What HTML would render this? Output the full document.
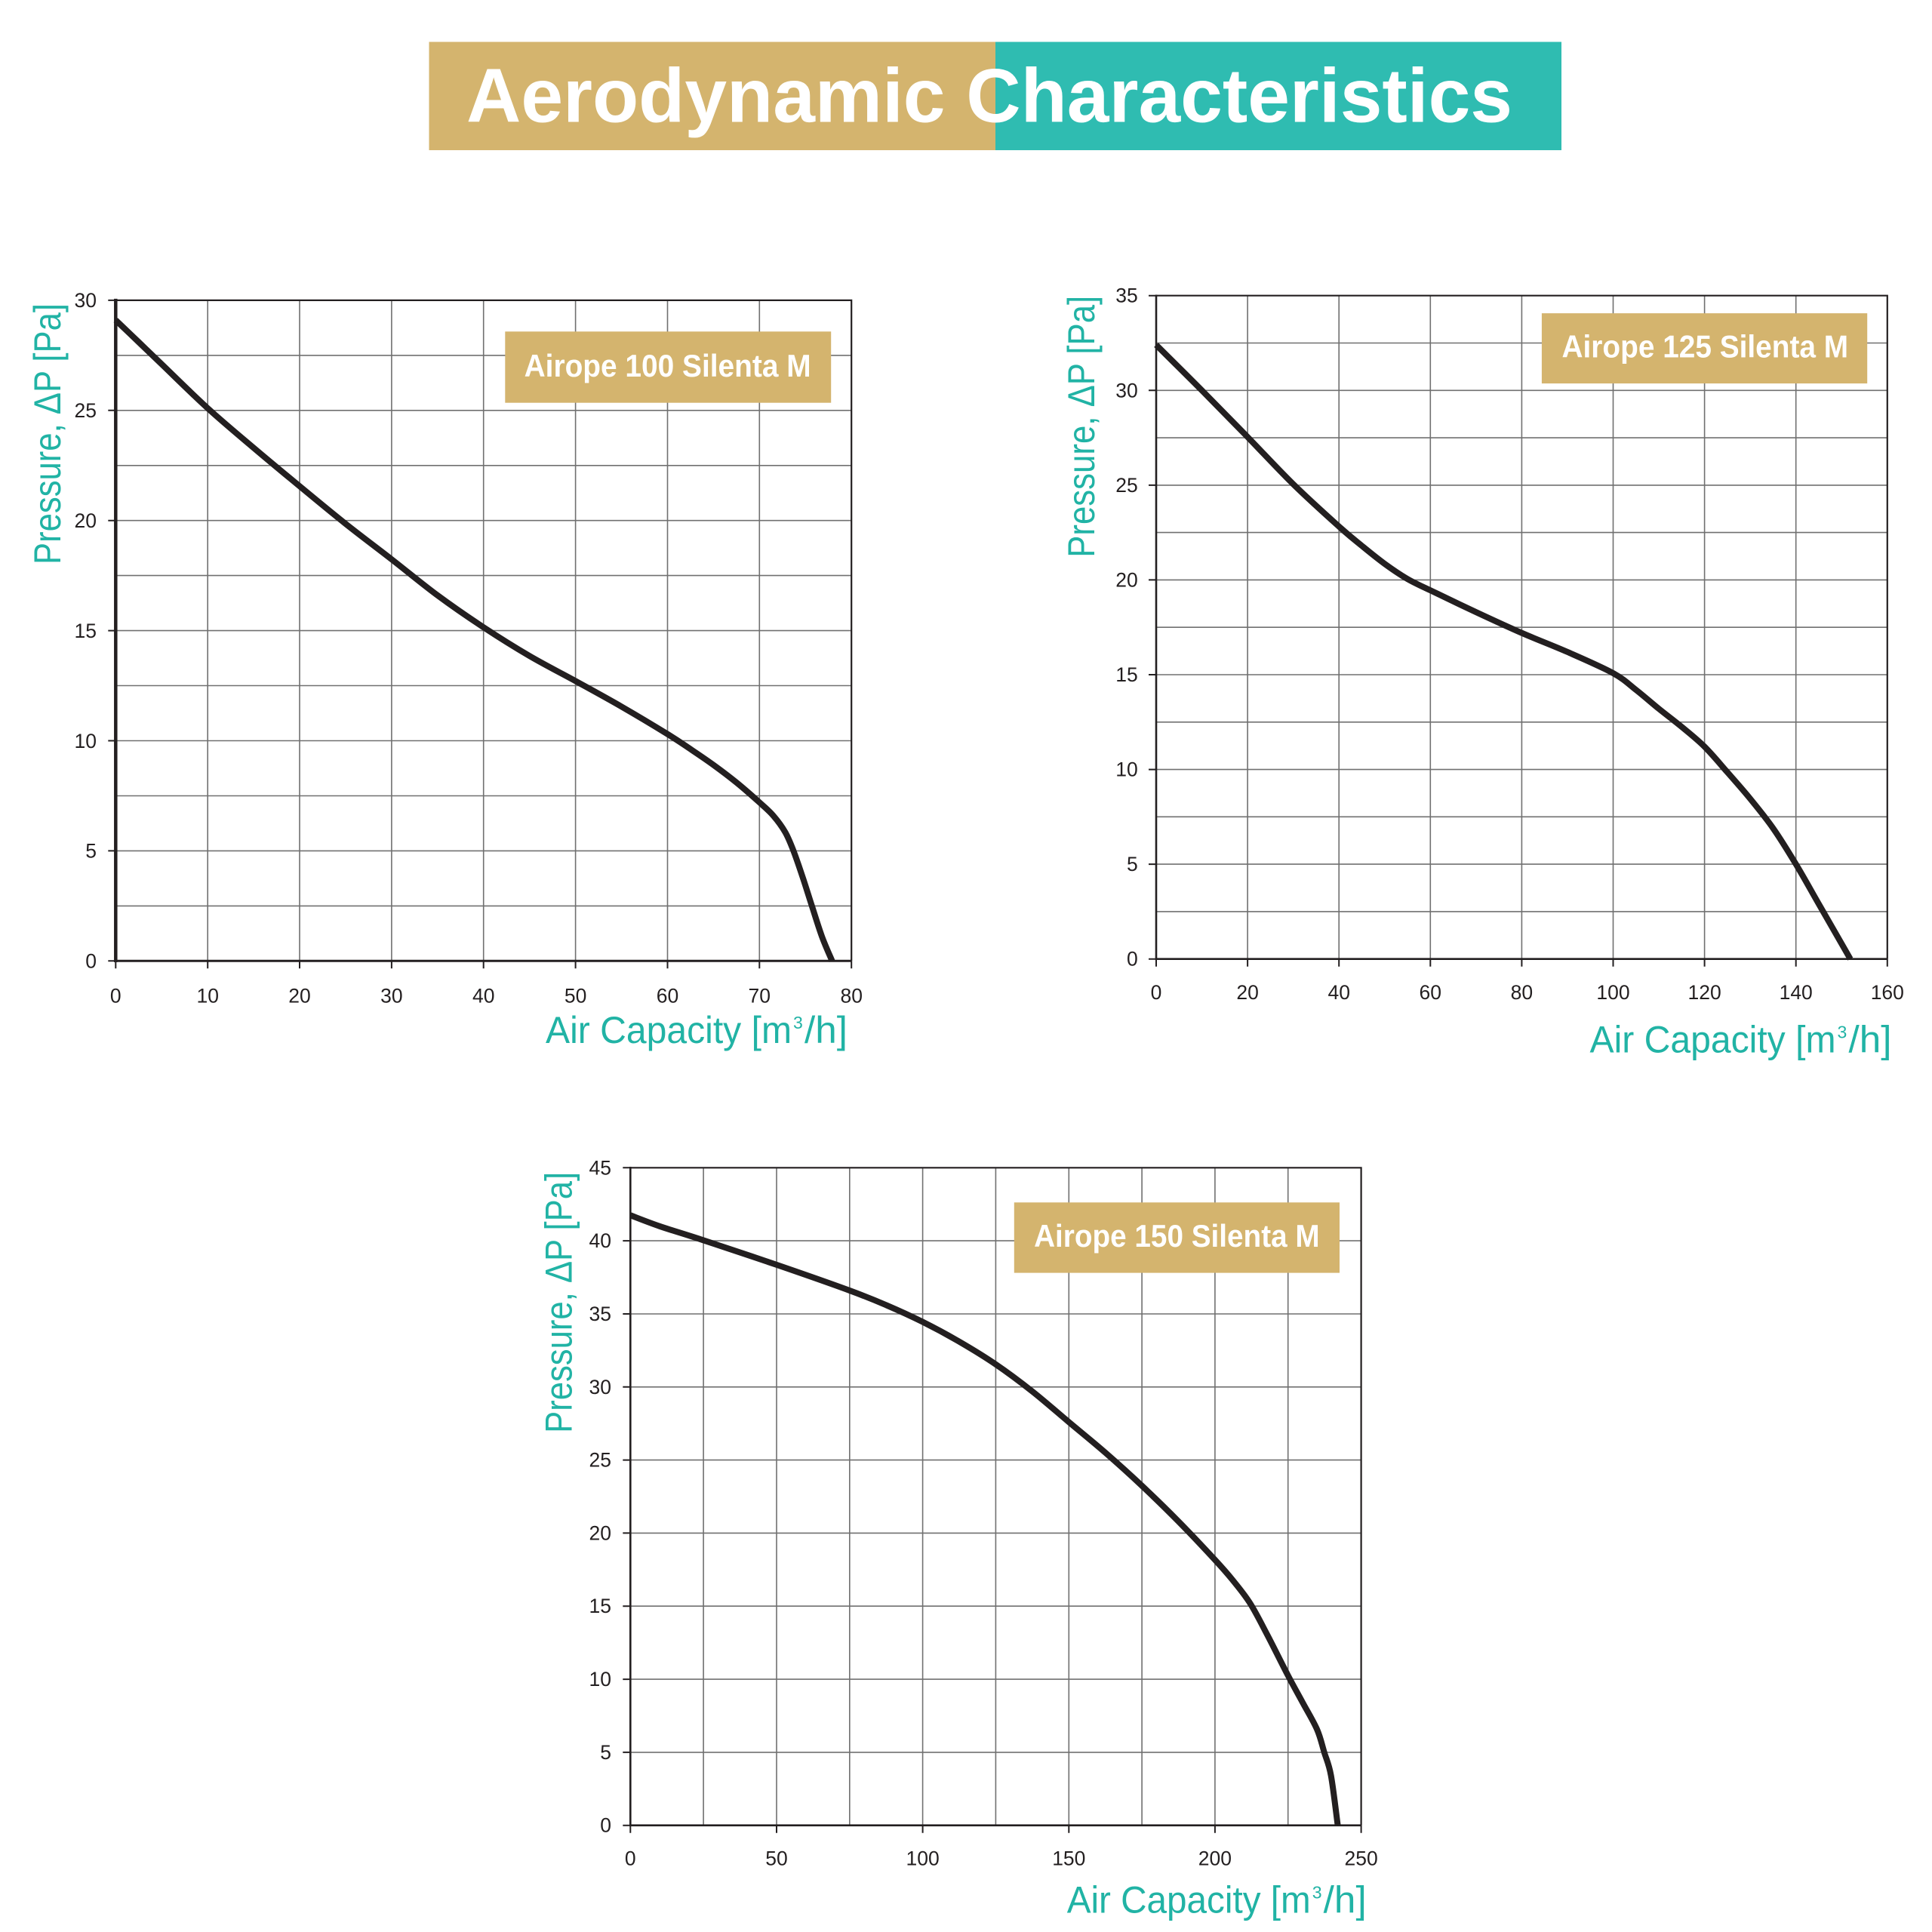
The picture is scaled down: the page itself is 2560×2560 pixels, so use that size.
<!DOCTYPE html>
<html>
<head>
<meta charset="utf-8">
<style>
html,body{margin:0;padding:0;background:#fff;}
svg{display:block;}
.tk{font-family:"Liberation Sans",Arial,sans-serif;font-size:26.5px;fill:#231f20;}
.ax{font-family:"Liberation Sans",Arial,sans-serif;font-size:50px;fill:#21b3a5;}
.sup{font-family:"Liberation Sans",Arial,sans-serif;font-size:23px;fill:#21b3a5;}
.bx{font-family:"Liberation Sans",Arial,sans-serif;font-size:42px;font-weight:bold;fill:#fff;}
.grid{stroke:#707070;stroke-width:1.6;fill:none;}
.bd{stroke:#231f20;fill:none;}
.crv{stroke:#231f20;stroke-width:8;fill:none;stroke-linejoin:round;stroke-linecap:butt;}
</style>
</head>
<body>
<svg id="root" width="2560" height="2560" viewBox="0 0 2560 2560" xmlns="http://www.w3.org/2000/svg">
<rect width="2560" height="2560" fill="#fff"/>

<!-- Title banner -->
<rect x="568.5" y="55.5" width="751" height="143.5" fill="#d4b46e"/>
<rect x="1319" y="55.5" width="750" height="143.5" fill="#2fbcb1"/>
<text x="618" y="161.7" font-family="Liberation Sans, Arial, sans-serif" font-size="101" font-weight="bold" fill="#fff" textLength="1386" lengthAdjust="spacingAndGlyphs">Aerodynamic Characteristics</text>

<!-- ================= Chart 1 ================= -->
<path class="grid" d="M275.2 397.9V1273.3M397 397.9V1273.3M518.9 397.9V1273.3M640.7 397.9V1273.3M762.6 397.9V1273.3M884.5 397.9V1273.3M1006.3 397.9V1273.3
M153.3 1200.4H1128.2M153.3 1127.4H1128.2M153.3 1054.5H1128.2M153.3 981.5H1128.2M153.3 908.5H1128.2M153.3 835.6H1128.2M153.3 762.6H1128.2M153.3 689.7H1128.2M153.3 616.8H1128.2M153.3 543.8H1128.2M153.3 470.9H1128.2"/>
<path class="bd" stroke-width="2.2" d="M153.3 397.9H1128.2V1273.3"/>
<path class="bd" stroke-width="2" d="M143.3 1273.3H153.3M143.3 1127.4H153.3M143.3 981.5H153.3M143.3 835.6H153.3M143.3 689.7H153.3M143.3 543.8H153.3M143.3 397.9H153.3
M153.3 1273.3V1283.3M275.2 1273.3V1283.3M397 1273.3V1283.3M518.9 1273.3V1283.3M640.7 1273.3V1283.3M762.6 1273.3V1283.3M884.5 1273.3V1283.3M1006.3 1273.3V1283.3M1128.2 1273.3V1283.3"/>
<path class="bd" stroke-width="3" d="M153.3 1273.3H1128.2"/>
<path class="bd" stroke-width="4.5" d="M153.3 395.9V1275"/>
<polyline class="crv" points="153.3,424.2 183.8,453.3 214.2,482.5 275.2,540.9 336.1,593.4 397,644.2 458,694.1 518.9,741.1 579.8,788.9 640.7,831.2 701.7,869.2 762.6,902.4 823.5,936.3 884.5,972.7 914.9,992.6 945.4,1013.6 975.9,1036.9 1006.3,1063.2 1024.6,1080.7 1040.4,1102.6 1051.4,1127.4 1063.6,1162.4 1075.8,1200.4 1089.2,1241.2 1102.6,1273.3"/>
<g class="tk" text-anchor="end">
<text x="128" y="1282.6">0</text><text x="128" y="1136.7">5</text><text x="128" y="990.8">10</text><text x="128" y="844.9">15</text><text x="128" y="699">20</text><text x="128" y="553.1">25</text><text x="128" y="407.2">30</text>
</g>
<g class="tk" text-anchor="middle">
<text x="153.3" y="1328.3">0</text><text x="275.2" y="1328.3">10</text><text x="397" y="1328.3">20</text><text x="518.9" y="1328.3">30</text><text x="640.7" y="1328.3">40</text><text x="762.6" y="1328.3">50</text><text x="884.5" y="1328.3">60</text><text x="1006.3" y="1328.3">70</text><text x="1128.2" y="1328.3">80</text>
</g>
<rect x="669.3" y="439.3" width="431.9" height="94.4" fill="#d4b46e"/>
<text class="bx" x="694.6" y="499.1" textLength="380" lengthAdjust="spacingAndGlyphs">Airope 100 Silenta M</text>
<text class="ax" transform="translate(80,748) rotate(-90)" textLength="346" lengthAdjust="spacingAndGlyphs">Pressure, ΔP [Pa]</text>
<text class="ax" x="723" y="1382" textLength="326" lengthAdjust="spacingAndGlyphs">Air Capacity [m</text>
<text class="sup" x="1051" y="1363">3</text>
<text class="ax" x="1066" y="1382" textLength="57" lengthAdjust="spacingAndGlyphs">/h]</text>

<!-- ================= Chart 2 ================= -->
<path class="grid" d="M1653.1 391.7V1270.7M1774.2 391.7V1270.7M1895.3 391.7V1270.7M2016.4 391.7V1270.7M2137.5 391.7V1270.7M2258.6 391.7V1270.7M2379.7 391.7V1270.7
M1532 1207.9H2500.8M1532 1145.1H2500.8M1532 1082.3H2500.8M1532 1019.6H2500.8M1532 956.8H2500.8M1532 894H2500.8M1532 831.2H2500.8M1532 768.4H2500.8M1532 705.6H2500.8M1532 642.9H2500.8M1532 580.1H2500.8M1532 517.3H2500.8M1532 454.5H2500.8"/>
<path class="bd" stroke-width="2.2" d="M1532 391.7H2500.8V1270.7"/>
<path class="bd" stroke-width="2" d="M1522 1270.7H1532M1522 1145.1H1532M1522 1019.6H1532M1522 894H1532M1522 768.4H1532M1522 642.9H1532M1522 517.3H1532M1522 391.7H1532
M1532 1270.7V1280.7M1653.1 1270.7V1280.7M1774.2 1270.7V1280.7M1895.3 1270.7V1280.7M2016.4 1270.7V1280.7M2137.5 1270.7V1280.7M2258.6 1270.7V1280.7M2379.7 1270.7V1280.7M2500.8 1270.7V1280.7"/>
<path class="bd" stroke-width="2.6" d="M1532 1270.7H2500.8M1532 390.5V1272"/>
<polyline class="crv" points="1532,457 1592.6,517.3 1653.1,579 1713.7,641.6 1774.2,697.6 1804.5,723.2 1834.8,747.1 1865,767.2 1895.3,782.2 1955.9,811.1 2016.4,838.7 2077,863.9 2137.5,892 2167.8,914.1 2198.1,939.2 2228.3,963.1 2258.6,989.4 2288.9,1023.3 2319.2,1058.5 2349.4,1097.4 2379.7,1145.1 2410,1197.9 2440.3,1250.6 2451.8,1270.7"/>
<g class="tk" text-anchor="end">
<text x="1507.7" y="1279.7">0</text><text x="1507.7" y="1154.1">5</text><text x="1507.7" y="1028.6">10</text><text x="1507.7" y="903">15</text><text x="1507.7" y="777.4">20</text><text x="1507.7" y="651.9">25</text><text x="1507.7" y="526.3">30</text><text x="1507.7" y="400.7">35</text>
</g>
<g class="tk" text-anchor="middle">
<text x="1532" y="1324">0</text><text x="1653.1" y="1324">20</text><text x="1774.2" y="1324">40</text><text x="1895.3" y="1324">60</text><text x="2016.4" y="1324">80</text><text x="2137.5" y="1324">100</text><text x="2258.6" y="1324">120</text><text x="2379.7" y="1324">140</text><text x="2500.8" y="1324">160</text>
</g>
<rect x="2042.9" y="415.1" width="431.3" height="93" fill="#d4b46e"/>
<text class="bx" x="2069.5" y="473.6" textLength="379.6" lengthAdjust="spacingAndGlyphs">Airope 125 Silenta M</text>
<text class="ax" transform="translate(1450,738.8) rotate(-90)" textLength="347" lengthAdjust="spacingAndGlyphs">Pressure, ΔP [Pa]</text>
<text class="ax" x="2106.5" y="1394.5" textLength="326" lengthAdjust="spacingAndGlyphs">Air Capacity [m</text>
<text class="sup" x="2434.5" y="1375.5">3</text>
<text class="ax" x="2449.5" y="1394.5" textLength="57" lengthAdjust="spacingAndGlyphs">/h]</text>

<!-- ================= Chart 3 ================= -->
<path class="grid" d="M932.1 1547.3V2418.7M1029 1547.3V2418.7M1125.8 1547.3V2418.7M1222.6 1547.3V2418.7M1319.4 1547.3V2418.7M1416.3 1547.3V2418.7M1513.1 1547.3V2418.7M1609.9 1547.3V2418.7M1706.7 1547.3V2418.7
M835.3 2321.9H1803.6M835.3 2225.1H1803.6M835.3 2128.2H1803.6M835.3 2031.4H1803.6M835.3 1934.6H1803.6M835.3 1837.8H1803.6M835.3 1741H1803.6M835.3 1644.1H1803.6"/>
<path class="bd" stroke-width="2.2" d="M835.3 1547.3H1803.6V2418.7"/>
<path class="bd" stroke-width="2" d="M825.3 2418.7H835.3M825.3 2321.9H835.3M825.3 2225.1H835.3M825.3 2128.2H835.3M825.3 2031.4H835.3M825.3 1934.6H835.3M825.3 1837.8H835.3M825.3 1741H835.3M825.3 1644.1H835.3M825.3 1547.3H835.3
M835.3 2418.7V2428.7M1029 2418.7V2428.7M1222.6 2418.7V2428.7M1416.3 2418.7V2428.7M1609.9 2418.7V2428.7M1803.6 2418.7V2428.7"/>
<path class="bd" stroke-width="2.6" d="M835.3 2418.7H1803.6M835.3 1546V2420"/>
<polyline class="crv" points="835.3,1610.3 874,1624.8 932.1,1643.4 1029,1675.9 1125.8,1710 1174.2,1729.3 1222.6,1751.6 1271,1777.7 1319.4,1807.8 1367.8,1843.6 1416.3,1884.3 1464.7,1924.9 1513.1,1968.7 1561.5,2015.9 1609.9,2066.9 1633.1,2093.4 1656.4,2124.4 1679.6,2167 1706.7,2220.2 1726.1,2256 1745.1,2291.5 1754.7,2321.9 1763.6,2352.5 1772.6,2418.7"/>
<g class="tk" text-anchor="end">
<text x="810" y="2427.7">0</text><text x="810" y="2330.9">5</text><text x="810" y="2234.1">10</text><text x="810" y="2137.2">15</text><text x="810" y="2040.4">20</text><text x="810" y="1943.6">25</text><text x="810" y="1846.8">30</text><text x="810" y="1750">35</text><text x="810" y="1653.1">40</text><text x="810" y="1556.3">45</text>
</g>
<g class="tk" text-anchor="middle">
<text x="835.3" y="2471.7">0</text><text x="1029" y="2471.7">50</text><text x="1222.6" y="2471.7">100</text><text x="1416.3" y="2471.7">150</text><text x="1609.9" y="2471.7">200</text><text x="1803.6" y="2471.7">250</text>
</g>
<rect x="1343.8" y="1593.3" width="431.2" height="93.3" fill="#d4b46e"/>
<text class="bx" x="1370.1" y="1652.1" textLength="378.5" lengthAdjust="spacingAndGlyphs">Airope 150 Silenta M</text>
<text class="ax" transform="translate(757.5,1898.9) rotate(-90)" textLength="346" lengthAdjust="spacingAndGlyphs">Pressure, ΔP [Pa]</text>
<text class="ax" x="1413.7" y="2534.5" textLength="323" lengthAdjust="spacingAndGlyphs">Air Capacity [m</text>
<text class="sup" x="1738.7" y="2515.5">3</text>
<text class="ax" x="1753.7" y="2534.5" textLength="57" lengthAdjust="spacingAndGlyphs">/h]</text>
</svg>
<script>
(function(){
  var ns="http://www.w3.org/2000/svg";
  var pls=document.querySelectorAll("polyline.crv");
  for(var k=0;k<pls.length;k++){
    var pl=pls[k];
    var raw=pl.getAttribute("points").trim().split(/\s+/);
    var p=[];
    for(var i=0;i<raw.length;i++){var c=raw[i].split(",");p.push([parseFloat(c[0]),parseFloat(c[1])]);}
    var d="M"+p[0][0]+" "+p[0][1];
    for(var i=0;i<p.length-1;i++){
      var p0=p[i>0?i-1:0],p1=p[i],p2=p[i+1],p3=p[i+2<p.length?i+2:p.length-1];
      var c1x=p1[0]+(p2[0]-p0[0])/6,c1y=p1[1]+(p2[1]-p0[1])/6;
      var c2x=p2[0]-(p3[0]-p1[0])/6,c2y=p2[1]-(p3[1]-p1[1])/6;
      d+="C"+c1x.toFixed(2)+" "+c1y.toFixed(2)+" "+c2x.toFixed(2)+" "+c2y.toFixed(2)+" "+p2[0]+" "+p2[1];
    }
    var path=document.createElementNS(ns,"path");
    path.setAttribute("class","crv");
    path.setAttribute("d",d);
    pl.parentNode.replaceChild(path,pl);
  }
})();
</script>
</body>
</html>
